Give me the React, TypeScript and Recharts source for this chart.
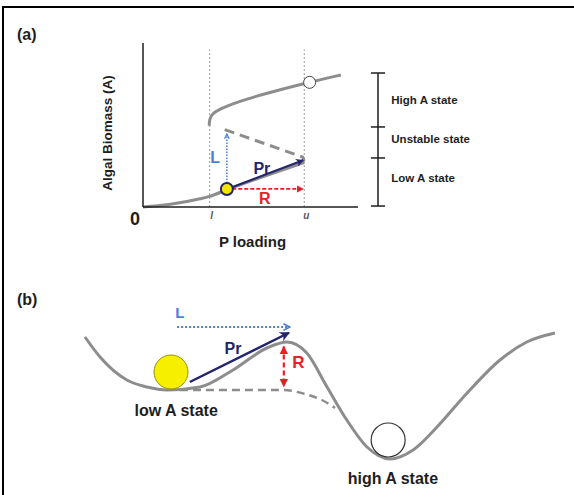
import { ComposedChart, Line, XAxis, YAxis, ReferenceLine, ReferenceDot } from "recharts";

/**
 * Histerese da biomassa algal frente à carga de P:
 *  (a) ramos estável baixo / instável / estável alto entre os limiares l e u;
 *  (b) paisagem de estabilidade com as medidas L, Pr e R.
 */

const FONT = '"Liberation Sans", Arial, Helvetica, sans-serif';
const GREY = "#8d8d8d";
const NAVY = "#24246c";
const BLUE = "#4a7fd6";
const RED = "#ee1c25";
const INK = "#1e1e1e";

// ---- (a) P loading × Algal Biomass ----
const L_POS = 3.1;
const U_POS = 7.5;
const X_TICKS = [0, L_POS, U_POS];
const lowerBranch = [
  { p: 0, a: 0 },
  { p: 1.2, a: 0.15 },
  { p: 2.65, a: 0.5 },
  { p: 3.1, a: 0.65 },
  { p: 3.9, a: 1.05 },
  { p: 5.6, a: 1.85 },
  { p: 7.5, a: 2.72 },
];
const upperBranch = [
  { p: 3.08, a: 4.95 },
  { p: 3.09, a: 5.35 },
  { p: 3.22, a: 5.72 },
  { p: 3.7, a: 6.05 },
  { p: 4.5, a: 6.45 },
  { p: 5.6, a: 6.88 },
  { p: 7.5, a: 7.54 },
  { p: 9.2, a: 8.05 },
];
const unstableBranch = [
  { p: 3.8, a: 4.72 },
  { p: 7.42, a: 3.05 },
  { p: 7.5, a: 2.8 },
];
const stateCuts = [0.06, 2.99, 4.88, 8.17];
const BRACKET_P = 10.93;
const stateNames = ["High A state", "Unstable state", "Low A state"];
const stateLabelA = [6.52, 4.15, 1.77];
const ballA = { p: 3.9, a: 1.1 };
const highA = { p: 7.75, a: 7.6 };
const arrowLA = [{ p: 3.9, a: 1.46 }, { p: 3.9, a: 4.45 }];
const arrowPrA = [{ p: 4.05, a: 1.16 }, { p: 7.45, a: 2.85 }];
const arrowRA = [{ p: 4.15, a: 1.1 }, { p: 7.45, a: 1.1 }];

// ---- (b) paisagem de estabilidade ----
const landscape = [
  { s: 0, v: 9.76 },
  { s: 3.2, v: 8.16 },
  { s: 8.9, v: 6.32 },
  { s: 13.2, v: 5.76 },
  { s: 17.5, v: 5.52 },
  { s: 24.5, v: 5.76 },
  { s: 31.5, v: 7.12 },
  { s: 38.7, v: 8.88 },
  { s: 43.0, v: 9.36 },
  { s: 47.2, v: 8.48 },
  { s: 51.5, v: 5.76 },
  { s: 55.7, v: 3.12 },
  { s: 60.0, v: 0.96 },
  { s: 64.9, v: 0 },
  { s: 69.8, v: 0.72 },
  { s: 74.9, v: 2.56 },
  { s: 81.3, v: 5.28 },
  { s: 88.3, v: 7.92 },
  { s: 94.0, v: 9.36 },
  { s: 100, v: 10.08 },
];
const flattened = [
  { s: 20.2, v: 5.52 },
  { s: 42.1, v: 5.52 },
  { s: 46.8, v: 5.2 },
  { s: 50.4, v: 4.72 },
  { s: 53.2, v: 4.08 },
];
const ballB = { s: 18.3, v: 6.96 };
const highB = { s: 64.5, v: 1.52 };
const arrowLB = [{ s: 19.6, v: 10.56 }, { s: 43.6, v: 10.56 }];
const arrowPrB = [{ s: 22.3, v: 6.16 }, { s: 43.4, v: 10.1 }];
const arrowRB = [{ s: 42.3, v: 9.0 }, { s: 42.3, v: 5.8 }];

function Markers({ id }: { id: string }) {
  return (
    <defs>
      <marker id={`${id}-navy`} viewBox="0 0 10 10" refX="9" refY="5" markerWidth="4" markerHeight="4" orient="auto-start-reverse">
        <path d="M0,0 L10,5 L0,10 L3,5 z" fill={NAVY} />
      </marker>
      <marker id={`${id}-blue`} viewBox="0 0 10 10" refX="9" refY="5" markerWidth="4" markerHeight="4" orient="auto-start-reverse">
        <path d="M1,1 L9,5 L1,9" fill="none" stroke={BLUE} strokeWidth="2" />
      </marker>
      <marker id={`${id}-red`} viewBox="0 0 10 10" refX="9" refY="5" markerWidth="4" markerHeight="4" orient="auto-start-reverse">
        <path d="M0,0 L10,5 L0,10 z" fill={RED} />
      </marker>
    </defs>
  );
}

function tag(key: string, x: number, y: number, value: string, fill: string, fontSize: number, position = "center") {
  return (
    <ReferenceDot
      key={key}
      x={x}
      y={y}
      r={0}
      fill="none"
      stroke="none"
      ifOverflow="visible"
      label={{ value, position, offset: 0, fill, fontSize, fontWeight: "bold", fontFamily: FONT }}
    />
  );
}

function PTick({ x, y, payload }: any) {
  if (payload.value === 0)
    return (
      <text x={x - 8} y={y + 18} textAnchor="middle" fontSize={18} fontWeight="bold" fontFamily={FONT} fill={INK}>
        0
      </text>
    );
  return (
    <text x={x + 2} y={y + 12} textAnchor="middle" fontSize={10} fontStyle="italic" fontWeight="bold" fontFamily={FONT} fill="#555">
      {payload.value === L_POS ? "l" : "u"}
    </text>
  );
}

function HysteresisChart() {
  return (
    <ComposedChart width={574} height={260} margin={{ top: 43, right: 216, bottom: 13, left: 83 }}>
      <Markers id="a" />
      <XAxis
        dataKey="p"
        type="number"
        domain={[0, 10]}
        ticks={X_TICKS}
        tick={<PTick />}
        tickLine={false}
        tickSize={0}
        tickMargin={0}
        height={40}
        axisLine={{ stroke: INK, strokeWidth: 1.5 }}
        label={{
          content: ({ viewBox }: any) => (
            <text x={viewBox.x + viewBox.width / 2 + 2} y={viewBox.y + 40} textAnchor="middle" fontSize={15} fontWeight="bold" fontFamily={FONT} fill={INK}>
              P loading
            </text>
          ),
        }}
      />
      <YAxis
        type="number"
        domain={[0, 10]}
        width={60}
        tick={false}
        tickLine={false}
        axisLine={{ stroke: INK, strokeWidth: 1.5 }}
        label={{
          content: ({ viewBox }: any) => {
            const cx = viewBox.x + 29;
            const cy = viewBox.y + viewBox.height / 2 + 8;
            return (
              <text x={cx} y={cy} transform={`rotate(-90 ${cx} ${cy})`} textAnchor="middle" fontSize={13.5} fontWeight="bold" fontFamily={FONT} fill={INK}>
                Algal Biomass (A)
              </text>
            );
          },
        }}
      />
      {[L_POS, U_POS].map((p) => (
        <ReferenceLine key={`v${p}`} segment={[{ x: p, y: 0 }, { x: p, y: 9.6 }]} stroke="#9a9a9a" strokeWidth={1} strokeDasharray="2 2" ifOverflow="visible" />
      ))}
      <Line data={lowerBranch} dataKey="a" type="monotone" stroke={GREY} strokeWidth={3} dot={false} isAnimationActive={false} />
      <Line data={upperBranch} dataKey="a" type="basis" stroke={GREY} strokeWidth={3} dot={false} isAnimationActive={false} />
      <Line data={unstableBranch} dataKey="a" type="linear" stroke={GREY} strokeWidth={3} strokeDasharray="10 6" dot={false} isAnimationActive={false} />
      <ReferenceLine segment={arrowLA.map((d) => ({ x: d.p, y: d.a }))} stroke={BLUE} strokeWidth={1.5} strokeDasharray="1.5 1.5" markerEnd="url(#a-blue)" ifOverflow="visible" />
      <ReferenceLine segment={arrowRA.map((d) => ({ x: d.p, y: d.a }))} stroke={RED} strokeWidth={1.8} strokeDasharray="4 2" markerEnd="url(#a-red)" ifOverflow="visible" />
      <ReferenceLine segment={arrowPrA.map((d) => ({ x: d.p, y: d.a }))} stroke={NAVY} strokeWidth={2} markerEnd="url(#a-navy)" ifOverflow="visible" />
      <ReferenceDot x={ballA.p} y={ballA.a} r={6} fill="#f2e600" stroke={NAVY} strokeWidth={2} ifOverflow="visible" />
      <ReferenceDot x={highA.p} y={highA.a} r={6} fill="#fff" stroke="#444" strokeWidth={1} ifOverflow="visible" />
      <ReferenceLine segment={[{ x: BRACKET_P, y: stateCuts[0] }, { x: BRACKET_P, y: stateCuts[3] }]} stroke={INK} strokeWidth={1.5} ifOverflow="visible" />
      {stateCuts.map((c) => (
        <ReferenceLine key={`t${c}`} segment={[{ x: BRACKET_P - 0.33, y: c }, { x: BRACKET_P + 0.33, y: c }]} stroke={INK} strokeWidth={1.5} ifOverflow="visible" />
      ))}
      {stateNames.map((n, i) => tag(`s${i}`, 11.55, stateLabelA[i], n, INK, 11.5, "right"))}
      {tag("La", 3.35, 3.05, "L", BLUE, 16)}
      {tag("Pra", 5.53, 2.38, "Pr", NAVY, 16)}
      {tag("Ra", 5.67, 0.55, "R", RED, 16)}
    </ComposedChart>
  );
}

function LandscapeChart() {
  return (
    <ComposedChart width={574} height={235} margin={{ top: 49, right: 19, bottom: 36, left: 85 }}>
      <Markers id="b" />
      <XAxis dataKey="s" type="number" domain={[0, 100]} hide />
      <YAxis type="number" domain={[0, 12]} hide />
      <Line data={landscape} dataKey="v" type="monotone" stroke={GREY} strokeWidth={3} dot={false} isAnimationActive={false} />
      <Line data={flattened} dataKey="v" type="monotone" stroke={GREY} strokeWidth={2.5} strokeDasharray="8 5" dot={false} isAnimationActive={false} />
      <ReferenceDot x={ballB.s} y={ballB.v} r={17} fill="#f7ef00" stroke="#9a9400" strokeWidth={1} ifOverflow="visible" />
      <ReferenceDot x={highB.s} y={highB.v} r={17} fill="#fff" stroke="#333" strokeWidth={1.2} ifOverflow="visible" />
      <ReferenceLine segment={arrowLB.map((d) => ({ x: d.s, y: d.v }))} stroke={BLUE} strokeWidth={2} strokeDasharray="2 2" markerEnd="url(#b-blue)" ifOverflow="visible" />
      <ReferenceLine segment={arrowPrB.map((d) => ({ x: d.s, y: d.v }))} stroke={NAVY} strokeWidth={2.5} markerEnd="url(#b-navy)" ifOverflow="visible" />
      <ReferenceLine segment={arrowRB.map((d) => ({ x: d.s, y: d.v }))} stroke={RED} strokeWidth={2.2} strokeDasharray="5 3" markerStart="url(#b-red)" markerEnd="url(#b-red)" ifOverflow="visible" />
      {tag("Lb", 20.2, 11.68, "L", BLUE, 15)}
      {tag("Prb", 31.5, 8.88, "Pr", NAVY, 16)}
      {tag("Rb", 45.4, 7.76, "R", RED, 17)}
      {tag("lowb", 19.4, 3.92, "low A state", INK, 16)}
      {tag("highb", 65.5, -1.52, "high A state", INK, 16)}
    </ComposedChart>
  );
}

const panelTag: React.CSSProperties = {
  position: "absolute",
  left: 17,
  fontFamily: FONT,
  fontWeight: "bold",
  fontSize: 16,
  lineHeight: "18px",
  color: INK,
};

export default function App() {
  return (
    <div style={{ position: "absolute", left: 0, top: 0, width: 574, height: 495, background: "#fff", overflow: "hidden" }}>
      <div
        style={{
          position: "absolute",
          left: 2,
          top: 6,
          width: 572,
          height: 489,
          borderTop: "2px solid #000",
          borderLeft: "2px solid #000",
          boxSizing: "border-box",
        }}
      />
      <div style={{ position: "absolute", left: 0, top: 0 }}>
        <HysteresisChart />
      </div>
      <div style={{ position: "absolute", left: 0, top: 260 }}>
        <LandscapeChart />
      </div>
      <div style={{ ...panelTag, top: 26 }}>(a)</div>
      <div style={{ ...panelTag, top: 291 }}>(b)</div>
    </div>
  );
}
